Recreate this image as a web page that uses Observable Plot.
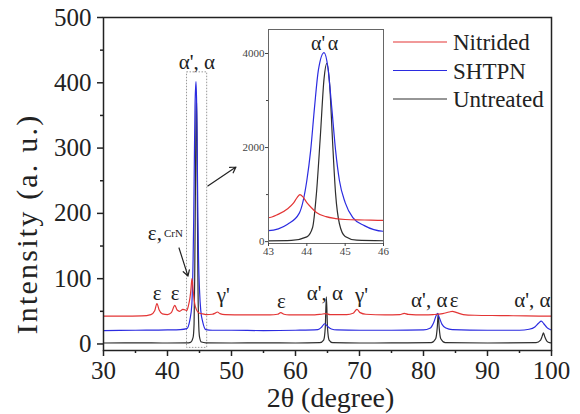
<!DOCTYPE html>
<html><head><meta charset="utf-8">
<script src="https://cdn.jsdelivr.net/npm/d3@7"></script>
<script src="https://cdn.jsdelivr.net/npm/@observablehq/plot@0.6"></script>
<style>
body{margin:0;background:#fff;}
#wrap{position:relative;width:580px;height:414px;}
#inset{position:absolute;left:228px;top:22px;}
</style></head><body><div id="wrap"><div id="main"></div><div id="inset"></div></div>
<script>
const series = ["Nitrided", "SHTPN", "Untreated"];
const colors = ["#e33535", "#2b2be0", "#2e2e2e"];

// [2θ, intensity (a. u.)]
const untreated = [
[30,1.5],[35,1.8],[40,1.5],[43,1.6],[43.6,2.5],[44.0,10],[44.15,30],[44.25,102],[44.35,221],[44.45,347],[44.52,379],[44.6,328],[44.67,215],[44.75,102],[44.85,38],[45.0,11],[45.3,3],[46,1.8],[50,1.5],[55,1.6],[60,1.5],[63.8,2],[64.4,6],[64.65,25],[64.82,72],[65.0,25],[65.25,6],[65.8,2],[70,1.5],[75,1.6],[81.2,2],[81.9,8],[82.15,25],[82.3,46],[82.45,25],[82.7,8],[83.4,2],[90,1.5],[97.6,2.2],[98.3,6],[98.55,12],[98.75,17],[98.95,11],[99.3,4],[99.7,2],[100,1.8]
];
const shtpn = [
[30,20.5],[35,21],[40,21.5],[42,22],[43,23.5],[43.5,37],[43.8,60],[44.0,130],[44.1,194],[44.2,285],[44.3,364],[44.45,402],[44.55,370],[44.65,285],[44.75,194],[44.85,130],[45.0,83],[45.2,51],[45.5,34],[46,22],[47,21],[50,21],[55,20.5],[60,21],[63.5,22],[64.1,26],[64.55,31],[65.0,27],[65.6,23],[66.5,21.5],[70,21],[75,21],[80,21.5],[81.0,24],[81.6,33],[82.0,44],[82.2,47],[82.45,41],[82.9,30],[83.5,24.5],[84.5,22],[90,21],[95,21],[96.5,22.5],[97.4,26],[98.0,32],[98.4,35],[98.8,31],[99.3,25],[99.7,22.5],[100,21.5]
];
const nitrided = [
[30,42.5],[33,42.5],[36,43],[37.4,45],[38.0,51],[38.35,62],[38.7,52],[39.2,46],[40,45],[40.6,48],[41.15,59],[41.5,52],[41.9,50],[42.4,53],[42.8,52],[43,51],[43.25,58],[43.5,70],[43.65,82],[43.75,94],[43.82,100],[43.9,95],[44.0,83],[44.12,72],[44.25,62],[44.5,53],[44.75,49],[45,47],[45.5,46],[46,45],[47.0,45.5],[47.5,47.5],[47.8,49],[48.2,46.5],[49,45],[52,44.5],[56,44.5],[57.2,45.5],[57.7,48],[58.2,45.5],[59,44.5],[63,44.5],[64.0,45.5],[64.7,46.5],[65.4,45],[68,45],[69.0,47],[69.6,53],[70.1,48],[71,45.5],[74,44.5],[76.3,45],[77,47],[77.6,45.3],[80,44.5],[81.5,45],[83,46.5],[84.0,49],[84.5,50],[85.2,48],[86.2,45],[88,44],[92,43.5],[96,43],[100,42.5]
];

// peak labels
const labelText = ["ε","ε","γ'","ε","α', α","γ'","α', α","ε","α', α","α', α"];
const labelX    = [38.4, 41.2, 48.7, 57.8, 64.6, 70.3, 80.9, 84.8, 97.0, 44.6];
const labelY    = [77, 77, 74, 65, 78, 74, 67, 67, 67, 431];

const xMajor = [30,40,50,60,70,80,90,100];
const xMinor = [35,45,55,65,75,85,95];
const yMajor = [0,100,200,300,400,500];
const yMinor = [50,150,250,350,450];

const insetXTicks = [43,44,45,46];
const insetYMajor = [0,2000,4000];
const insetYMinor = [1000,3000];
const insetLabelText = ["α'", "α"];
const insetLabelX = [44.29, 44.68];
const insetLabelY = [4210, 4210];

const rows = [];
[["Untreated", untreated], ["SHTPN", shtpn], ["Nitrided", nitrided]].forEach(([name, pts]) =>
  pts.forEach(([x, y]) => rows.push({name, x, y})));
const labels = labelText.map((t, i) => ({t, x: labelX[i], y: labelY[i]}));

const serif = '"Liberation Serif",Times,"Times New Roman","DejaVu Serif",serif';

const main = Plot.plot({
  width: 580, height: 414,
  marginLeft: 103, marginRight: 29, marginTop: 17, marginBottom: 64,
  style: {fontFamily: serif, fontSize: "25px", color: "#222", background: "#fff"},
  x: {domain: [30, 100]},
  y: {domain: [-10, 500]},
  color: {domain: series, range: colors},
  marks: [
    Plot.rect([{x1: 43.05, x2: 46.2, y1: -6, y2: 416}], {x1: "x1", x2: "x2", y1: "y1", y2: "y2", fill: "none", stroke: "#999", strokeDasharray: "1.5,1.5"}),
    Plot.line(rows.filter(d => d.name === "Untreated"), {x: "x", y: "y", stroke: "name", strokeWidth: 1.2, curve: "monotone-x", clip: true}),
    Plot.line(rows.filter(d => d.name === "SHTPN"), {x: "x", y: "y", stroke: "name", strokeWidth: 1.2, curve: "monotone-x", clip: true}),
    Plot.line(rows.filter(d => d.name === "Nitrided"), {x: "x", y: "y", stroke: "name", strokeWidth: 1.2, curve: "monotone-x", clip: true}),
    Plot.frame({stroke: "#222", strokeWidth: 1.5}),
    Plot.axisX({ticks: xMajor, tickSize: 6, tickPadding: 5, fontSize: 25, label: null, strokeWidth: 1.5}),
    Plot.axisX({ticks: xMinor, tickSize: 3, tickFormat: () => "", label: null, strokeWidth: 1.5}),
    Plot.axisY({ticks: yMajor, tickSize: 6, tickPadding: 6, fontSize: 25, label: null, strokeWidth: 1.5}),
    Plot.axisY({ticks: yMinor, tickSize: 3, tickFormat: () => "", label: null, strokeWidth: 1.5}),
    Plot.text(labels, {x: "x", y: "y", text: "t", fontSize: 21, fill: "#222"}),
    Plot.text(["ε,"], {x: 36.93, y: 169, text: d => d, textAnchor: "start", fontSize: 21, fill: "#222"}),
    Plot.text(["CrN"], {x: 39.44, y: 169, text: d => d, textAnchor: "start", fontSize: 11, fill: "#222"}),
    Plot.arrow([{x1: 41.8, y1: 147, x2: 43.2, y2: 104}, {x1: 46.3, y1: 242, x2: 50.7, y2: 271}],
      {x1: "x1", y1: "y1", x2: "x2", y2: "y2", stroke: "#222", strokeWidth: 1.2, headLength: 8}),
    Plot.text(["Intensity (a. u.)"], {frameAnchor: "left", textAnchor: "middle", lineAnchor: "middle", dx: -76, dy: 40, rotate: -90, fontSize: 30, text: d => d, fill: "#222"}),
    Plot.text(["2θ (degree)"], {frameAnchor: "bottom", textAnchor: "middle", lineAnchor: "middle", dx: 3, dy: 48, fontSize: 28, text: d => d, fill: "#222"})
  ]
});
document.getElementById("main").appendChild(main);

// y label letter spacing
d3.select(main).selectAll("text").filter(function() { return this.textContent === "Intensity (a. u.)"; })
  .attr("letter-spacing", "2.2px");

// legend
const lg = d3.select(main).append("g").attr("font-size", 23).attr("fill", "#222").attr("text-anchor", "start");
series.forEach((s, i) => {
  const y = 42 + i * 28.5;
  lg.append("line").attr("x1", 393).attr("x2", 447).attr("y1", y).attr("y2", y).attr("stroke", colors[i]).attr("stroke-width", 1.2);
  lg.append("text").attr("x", 453).attr("y", y).attr("dy", "0.35em").text(s);
});

// inset
const insetRows = rows.filter(d => d.x >= 42 && d.x <= 47).map(d => ({name: d.name, x: d.x, y: d.y * 10}));
const inset = Plot.plot({
  width: 160, height: 238,
  marginLeft: 40, marginRight: 5, marginTop: 7, marginBottom: 17,
  style: {fontFamily: serif, fontSize: "11px", color: "#444", background: "transparent", overflow: "visible"},
  x: {domain: [43, 46]},
  y: {domain: [-40, 4510]},
  color: {domain: series, range: colors},
  marks: [
    Plot.line(insetRows.filter(d => d.name === "Untreated"), {x: "x", y: "y", stroke: "name", strokeWidth: 1.2, curve: "monotone-x", clip: true}),
    Plot.line(insetRows.filter(d => d.name === "SHTPN"), {x: "x", y: "y", stroke: "name", strokeWidth: 1.2, curve: "monotone-x", clip: true}),
    Plot.line(insetRows.filter(d => d.name === "Nitrided"), {x: "x", y: "y", stroke: "name", strokeWidth: 1.2, curve: "monotone-x", clip: true}),
    Plot.frame({stroke: "#666", strokeWidth: 1}),
    Plot.axisY({ticks: insetYMajor, tickSize: 3, tickPadding: 1, tickFormat: d => String(d), label: null, fontSize: 11}),
    Plot.axisY({ticks: insetYMinor, tickSize: 2, tickFormat: () => "", label: null}),
    Plot.axisX({ticks: insetXTicks, tickSize: 3, tickPadding: 1, tickFormat: d => String(d), label: null, fontSize: 11}),
    Plot.text(insetLabelText, {x: (d, i) => insetLabelX[i], y: (d, i) => insetLabelY[i], text: d => d, fontSize: 20, fill: "#222"})
  ]
});
document.getElementById("inset").appendChild(inset);
</script></body></html>
